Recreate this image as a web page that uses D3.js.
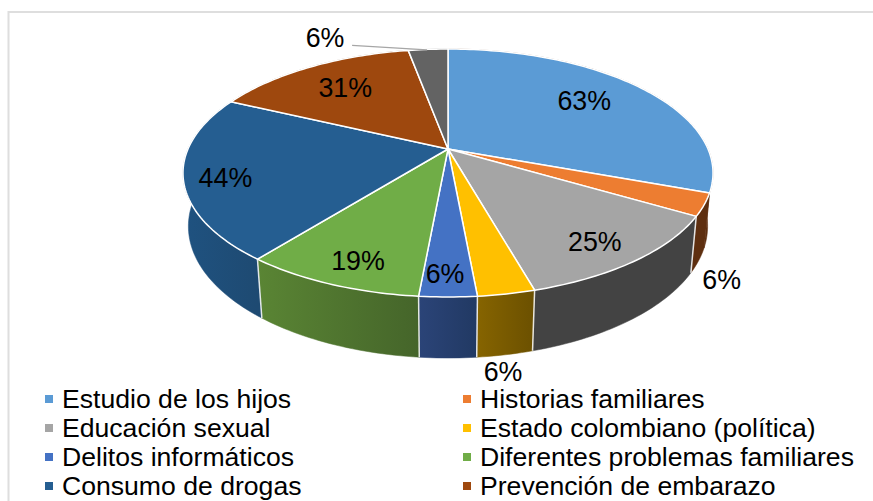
<!DOCTYPE html>
<html lang="en">
<meta charset="utf-8">
<title>Temas</title>
<style>
	body { margin: 0; background: #fff; font-family: "Liberation Sans", Arial, sans-serif; }
	svg { display: block; }
	text { fill: #000; }
	.label { font-size: 26.8px; text-anchor: middle; dominant-baseline: central; }
	.legend { font-size: 26.6px; dominant-baseline: central; }
</style>
<body>
<svg class="chart"></svg>
<script src="https://d3js.org/d3.v7.min.js"></script>
<script>
	var categories = ["Estudio de los hijos", "Historias familiares", "Educación sexual", "Estado colombiano (política)",
		"Delitos informáticos", "Diferentes problemas familiares", "Consumo de drogas", "Prevención de embarazo"];
	var values = [63, 6, 25, 6, 6, 19, 44, 31, 6];
	var colors = ["#5b9bd5", "#ed7d31", "#a5a5a5", "#ffc000", "#4472c4", "#70ad47", "#255e91", "#9e480e", "#636363"];
	var wallLeft = ["#5e2f10", "#5e2f10", "#434343", "#866400", "#2b4478", "#5a8534", "#1f5280", "#5e2b08", "#3b3b3b"];
	var wallRight = ["#5e2f10", "#5e2f10", "#434343", "#6b5000", "#213963", "#45652a", "#1e4a72", "#5e2b08", "#3b3b3b"];

	// how far along the radius each inside label sits, null = outside the pie
	var labelRadius = [0.71, null, 0.84, null, 0.87, 0.85, 0.85, 0.72, null];
	// small pixel nudges for the inside labels
	var labelNudge = { 0: [-4, -3], 2: [-6, 2], 4: [-3, 0], 5: [7, 1], 6: [1, 5], 7: [0, 0] };
	// outside labels hang off the rim of their slice
	var outsideOffset = { 1: [23, 20], 3: [-2, 17], 8: [-103, -11] };

	var width = 873, height = 501;
	var cx = 448, cy = 149;
	var k = 0.1935, lowerW = 0.02, lowerY = 53.4;   // perspective of the 3d disc

	var svg = d3.select(".chart").attr("width", width).attr("height", height);

	var xScale = d3.scaleLinear().domain([-1, 1]).range([cx - 260, cx + 260]);
	var yScale = d3.scaleLinear().domain([-1, 1]).range([cy + 119.35, cy - 119.35]);

	var arcs = d3.pie().sort(null)(values);

	// a point of the disc at angle a and radius r, on the top or on the bottom face
	function project(a, r, lower) {
		var X = Math.sin(a) * r, Y = Math.cos(a) * r;
		var w = 1 + k * Y + (lower ? lowerW : 0);
		var py = yScale(Y) - cy + (lower ? lowerY : 0);
		return [cx + (xScale(X) - cx) / w, cy + py / w];
	}

	function rim(d, lower) {
		var n = Math.max(2, Math.ceil((d.endAngle - d.startAngle) / 0.02));
		return d3.range(n + 1).map(function(i) {
			return project(d.startAngle + (d.endAngle - d.startAngle) * i / n, 1, lower);
		});
	}

	var line = d3.line();
	var defs = svg.append("defs");

	// frame
	svg.append("path")
		.attr("d", line([[8.5, height], [8.5, 12], [width, 12]]))
		.attr("fill", "none").attr("stroke", "#dedede").attr("stroke-width", 2);

	// outer wall
	arcs.forEach(function(d, i) {
		var top = rim(d, false), bottom = rim(d, true);
		var grad = defs.append("linearGradient").attr("id", "wall" + i)
			.attr("gradientUnits", "userSpaceOnUse")
			.attr("x1", d3.min(top, function(p) { return p[0]; })).attr("y1", 0)
			.attr("x2", d3.max(top, function(p) { return p[0]; })).attr("y2", 0);
		grad.append("stop").attr("offset", 0).attr("stop-color", wallLeft[i]);
		grad.append("stop").attr("offset", 1).attr("stop-color", wallRight[i]);
		svg.append("path")
			.attr("d", line(top.concat(bottom.reverse())) + "Z")
			.attr("fill", "url(#wall" + i + ")")
			.attr("stroke", "url(#wall" + i + ")").attr("stroke-width", 0.5);
	});

	// white seams between the front walls
	arcs.forEach(function(d) {
		var a = d.startAngle;
		if (a < Math.PI * 0.65 || a > Math.PI * 1.3) return;
		svg.append("path")
			.attr("d", line([project(a, 1, false), project(a, 1, true)]))
			.attr("stroke", "#fff").attr("stroke-width", 1.5).attr("opacity", 0.85);
	});

	// top face
	svg.selectAll(".slice")
		.data(arcs)
	  .enter().append("path")
		.attr("class", "slice")
		.attr("d", function(d) { return line([project(0, 0, false)].concat(rim(d, false))) + "Z"; })
		.attr("fill", function(d, i) { return colors[i]; })
		.attr("stroke", "#fff").attr("stroke-width", 1.5).attr("stroke-linejoin", "round");

	// leader line of the top label
	var topRim = project((arcs[8].startAngle + arcs[8].endAngle) / 2, 1, false);
	svg.append("path")
		.attr("d", line([[topRim[0] + outsideOffset[8][0] + 27, topRim[1] + outsideOffset[8][1] + 7],
			[topRim[0] - 1, topRim[1] + 0.5]]))
		.attr("fill", "none").attr("stroke", "#a6a6a6").attr("stroke-width", 1.3);

	// data labels
	arcs.forEach(function(d, i) {
		var mid = (d.startAngle + d.endAngle) / 2, p;
		if (labelRadius[i] !== null) {
			p = project(mid, labelRadius[i], false);
			p = [p[0] + labelNudge[i][0], p[1] + labelNudge[i][1]];
		} else {
			p = project(mid, 1, i !== 8);
			p = [p[0] + outsideOffset[i][0], p[1] + outsideOffset[i][1]];
		}
		svg.append("text").attr("class", "label")
			.attr("x", p[0]).attr("y", p[1])
			.text(values[i] + "%");
	});

	// legend, two columns filled row by row
	var legendX = d3.scalePoint().domain([0, 1]).range([45, 463]);
	var legendY = d3.scalePoint().domain([0, 1, 2, 3]).range([399, 486]);

	var legend = svg.selectAll(".entry")
		.data(categories)
	  .enter().append("g")
		.attr("class", "entry")
		.attr("transform", function(d, i) {
			return "translate(" + legendX(i % 2) + "," + legendY(Math.floor(i / 2)) + ")";
		});

	legend.append("rect")
		.attr("y", -4).attr("width", 8).attr("height", 8)
		.attr("fill", function(d, i) { return colors[i]; });

	legend.append("text")
		.attr("class", "legend")
		.attr("x", 17)
		.text(function(d) { return d; });
</script>
</body>
</html>
